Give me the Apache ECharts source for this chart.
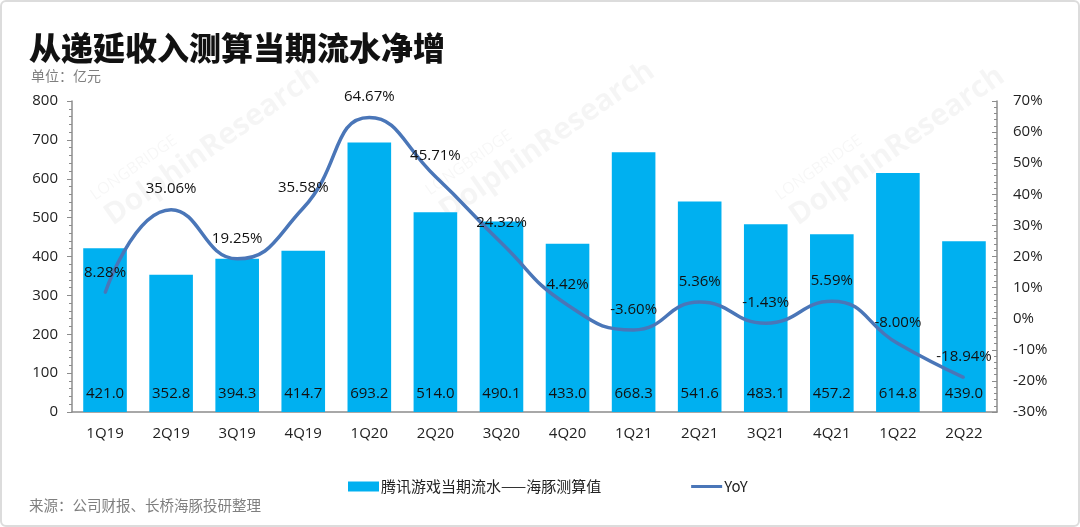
<!DOCTYPE html>
<html>
<head>
<meta charset="utf-8">
<script src="https://cdn.jsdelivr.net/npm/echarts@6/dist/echarts.min.js"></script>
<style>
html,body{margin:0;padding:0;background:#fff;}
.box{position:absolute;left:0;top:0;width:1076px;height:523px;border:2px solid #dcdcdc;border-radius:6px;}
#echart{width:1080px;height:527px;position:absolute;left:0;top:0;}
</style>
</head>
<body>
<div class="box"></div>
<div id="echart"></div>
<script>
// 季度
var quarters = ['1Q19','2Q19','3Q19','4Q19','1Q20','2Q20','3Q20','4Q20','1Q21','2Q21','3Q21','4Q21','1Q22','2Q22'];
// 腾讯游戏当期流水——海豚测算值（亿元）
var flowValues = [421.0,352.8,394.3,414.7,693.2,514.0,490.1,433.0,668.3,541.6,483.1,457.2,614.8,439.0];
// YoY (%)
var yoyValues = [8.28,35.06,19.25,35.58,64.67,45.71,24.32,4.42,-3.60,5.36,-1.43,5.59,-8.00,-18.94];

var font = "'Open Sans','Noto Sans CJK SC',sans-serif";
var cjk = "'Noto Sans CJK SC',sans-serif";
var lineColor = '#4a76b8';
var myChart = echarts.init(document.getElementById('echart'));

// 水印
function watermark(x, y){
  return {
    type:'group', x:x, y:y, rotation:Math.PI*35/180, silent:true, z:0,
    children:[
      {type:'text', style:{x:0, y:-30, text:'LONGBRIDGE', fill:'rgba(0,0,0,0.035)', font:'16px '+font}},
      {type:'text', style:{x:0, y:-10, text:'DolphinResearch', fill:'rgba(0,0,0,0.04)', font:'bold 30px '+font}}
    ]
  };
}

var option = {
  textStyle:{fontFamily:font},
  title:[
    {text:'从递延收入测算当期流水净增', left:24, top:27,
     textStyle:{fontSize:32, fontWeight:900, color:'#111', fontFamily:cjk}},
    {text:'单位：亿元', left:26, top:64,
     textStyle:{fontSize:14, fontWeight:'normal', color:'#7f7f7f', fontFamily:cjk}},
    {text:'来源：公司财报、长桥海豚投研整理', left:24, top:493,
     textStyle:{fontSize:14.5, fontWeight:'normal', color:'#7f7f7f', fontFamily:cjk}}
  ],
  graphic:[watermark(105,215), watermark(440,210), watermark(790,215)],
  legend:{
    left:343, top:474, itemGap:90, itemWidth:31, itemHeight:10,
    textStyle:{fontSize:15, color:'#222', fontFamily:cjk, padding:[0,0,0,-3]},
    data:[
      {name:'腾讯游戏当期流水——海豚测算值', icon:'rect'},
      {name:'YoY', icon:'path://M0,0 L31,0 L31,3 L0,3 Z', itemStyle:{color:lineColor, opacity:1}}
    ]
  },
  grid:{left:72, right:83, top:101, bottom:115},
  xAxis:{
    type:'category',
    data:quarters,
    axisLine:{lineStyle:{color:'#8c8c8c', width:1.5}},
    axisTick:{show:false},
    axisLabel:{fontSize:15, color:'#222', margin:14}
  },
  yAxis:[
    {
      type:'value', min:0, max:800, interval:100,
      axisLine:{show:true, lineStyle:{color:'#8c8c8c', width:1.5}},
      axisTick:{show:true, length:5, lineStyle:{color:'#8c8c8c'}},
      minorTick:{show:true, splitNumber:5, length:3, lineStyle:{color:'#8c8c8c'}},
      splitLine:{show:false},
      axisLabel:{fontSize:15, color:'#222', margin:14}
    },
    {
      type:'value', min:-30, max:70, interval:10,
      axisLine:{show:true, lineStyle:{color:'#8c8c8c', width:1.5}},
      axisTick:{show:true, inside:true, length:5, lineStyle:{color:'#8c8c8c'}},
      minorTick:{show:true, splitNumber:5, length:3, lineStyle:{color:'#8c8c8c'}},
      splitLine:{show:false},
      axisLabel:{fontSize:15, color:'#222', margin:16, formatter:'{value}%'}
    }
  ],
  series:[
    {
      name:'腾讯游戏当期流水——海豚测算值',
      type:'bar',
      data:flowValues,
      barWidth:'66%',
      itemStyle:{color:'#00b0f0'},
      label:{show:true, position:'insideBottom', distance:11, fontSize:15, color:'#111',
             formatter:function(p){return p.value.toFixed(1);}},
      z:2
    },
    {
      name:'YoY',
      type:'line',
      yAxisIndex:1,
      data:yoyValues,
      smooth:0.5,
      showSymbol:true,
      symbol:'circle',
      symbolSize:2,
      lineStyle:{color:lineColor, width:3.5},
      itemStyle:{color:lineColor},
      label:{show:true, position:'top', distance:12, fontSize:15, color:'#111',
             formatter:function(p){return p.value.toFixed(2)+'%';}},
      labelLayout:{hideOverlap:false},
      z:3
    }
  ]
};
myChart.setOption(option);
</script>
</body>
</html>
